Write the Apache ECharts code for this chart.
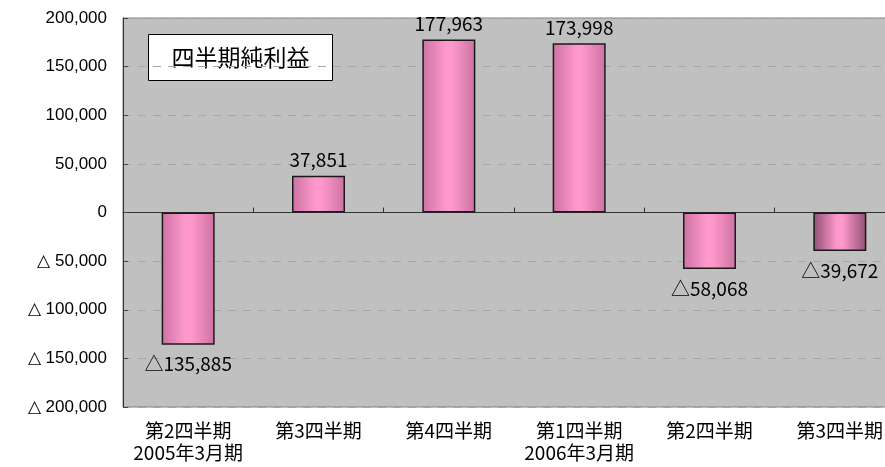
<!DOCTYPE html>
<html>
<head>
<meta charset="utf-8">
<script src="https://cdn.jsdelivr.net/npm/echarts@6/dist/echarts.min.js"></script>
<style>
  html, body { margin: 0; padding: 0; background: #ffffff; }
  #chart { width: 885px; height: 467px; }
</style>
</head>
<body>
<div id="chart"></div>
<script>
// Quarterly net income (negative values shown with △)
const categories = ['第2四半期\n2005年3月期', '第3四半期', '第4四半期', '第1四半期\n2006年3月期', '第2四半期', '第3四半期'];
const netIncome = [-135885, 37851, 177963, 173998, -58068, -39672];
const yTicks = { min: -200000, max: 200000, step: 50000 };
const chartTitle = '四半期純利益';

const jpFont = '"Noto Sans CJK JP", "Noto Sans", sans-serif';

function fmt(v) {
  return Math.abs(v).toString().replace(/\B(?=(\d{3})+(?!\d))/g, ',');
}

function barGradient(edge) {
  return new echarts.graphic.LinearGradient(0, 0, 1, 0, [
    { offset: 0, color: edge },
    { offset: 0.45, color: '#ff99cc' },
    { offset: 0.55, color: '#ff99cc' },
    { offset: 1, color: edge }
  ]);
}

const barData = netIncome.map((v, i) => ({
  value: v,
  itemStyle: { color: barGradient(i === netIncome.length - 1 ? '#8e5073' : '#cc72a2') },
  label: { position: v < 0 ? 'bottom' : 'top', distance: v < 0 ? 10 : 6 }
}));

const chart = echarts.init(document.getElementById('chart'), null, { renderer: 'canvas' });

chart.setOption({
  animation: false,
  backgroundColor: '#ffffff',
  grid: {
    left: 123, top: 18, width: 782, height: 389,
    outerBoundsMode: 'none',
    containLabel: false,
    show: true, backgroundColor: '#c0c0c0', borderColor: '#808080', borderWidth: 1
  },
  xAxis: [
    {
      type: 'category',
      data: categories,
      axisLine: { onZero: true, lineStyle: { color: '#333333', width: 1 } },
      axisTick: { show: true, inside: true, length: 5, interval: 0, lineStyle: { color: '#333333' } },
      axisLabel: { show: false },
      splitLine: { show: false }
    },
    {
      type: 'category',
      data: categories,
      position: 'bottom',
      axisLine: { show: false, onZero: false },
      axisTick: { show: false },
      axisLabel: {
        show: true, interval: 0, margin: 13, color: '#000000',
        fontFamily: jpFont, fontSize: 19, lineHeight: 22,
        verticalAlign: 'top'
      },
      splitLine: { show: false }
    }
  ],
  yAxis: {
    type: 'value',
    min: yTicks.min, max: yTicks.max, interval: yTicks.step,
    axisLine: { show: true, lineStyle: { color: '#333333' } },
    axisTick: { show: true, inside: true, length: 5, lineStyle: { color: '#444444' } },
    axisLabel: {
      margin: 16, color: '#000000',
      fontFamily: '"Liberation Sans", Arial, sans-serif', fontSize: 17,
      formatter: v => (v < 0 ? '△ ' : '') + fmt(v)
    },
    splitLine: { show: true, lineStyle: { color: '#a6a6a6', type: [8, 7], width: 1 } }
  },
  series: [{
    type: 'bar',
    xAxisIndex: 0,
    data: barData,
    barWidth: 53,
    itemStyle: { borderColor: '#1a1a1a', borderWidth: 1.5 },
    label: {
      show: true, color: '#000000',
      fontFamily: jpFont, fontSize: 19,
      formatter: p => (p.value < 0 ? '△' : '') + fmt(p.value)
    }
  }],
  graphic: [{
    type: 'group',
    left: 148, top: 34,
    children: [
      { type: 'rect', shape: { x: 0, y: 0, width: 184, height: 46 },
        style: { fill: '#ffffff', stroke: '#000000', lineWidth: 1 } },
      { type: 'text', x: 92, y: 23,
        style: { text: chartTitle, fontFamily: jpFont, fontSize: 23, fill: '#000000',
                 align: 'center', verticalAlign: 'middle' } }
    ]
  }]
});
</script>
</body>
</html>
